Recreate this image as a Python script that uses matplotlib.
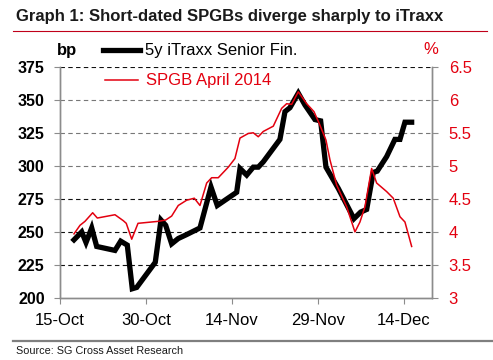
import matplotlib
matplotlib.use('Agg')
import matplotlib.pyplot as plt
from matplotlib.lines import Line2D
import datetime as dt

plt.rcParams['font.family'] = ['Liberation Sans', 'DejaVu Sans']

# ---------------- data ----------------
base_date = dt.datetime(2012, 10, 15)

itraxx_days = [2.44, 3.79, 4.54, 5.53, 6.40, 9.59, 10.59, 11.74, 12.61, 13.38,
               16.62, 17.62, 18.44, 19.48, 20.63, 22.10, 24.42, 26.34, 27.44, 30.82,
               31.40, 32.57, 33.72, 34.59, 35.46, 38.37, 39.25, 40.12, 41.57, 42.74,
               44.48, 45.47, 46.40, 48.54, 51.28, 52.45, 53.50, 54.65, 55.35, 56.99,
               58.43, 59.31, 60.18, 61.35]
itraxx_bp = [244, 250, 242, 253, 239, 236, 243, 240, 207, 208,
             227, 259, 255, 241, 245, 248, 253, 284, 270, 280,
             298, 293, 299, 299, 303, 320, 341, 344, 355, 346,
             335, 334, 299, 283, 260, 265, 267, 295, 296, 307,
             320, 320, 333, 333]

spgb_days = [2.44, 3.49, 4.36, 5.70, 6.51, 9.59, 11.04, 11.56, 12.51, 13.61,
             17.15, 18.44, 19.48, 20.63, 22.10, 23.43, 24.42, 25.59, 26.46, 27.61,
             29.36, 30.52, 31.40, 32.85, 33.72, 34.59, 35.46, 37.21, 38.67, 39.54,
             40.41, 41.57, 43.03, 44.31, 45.23, 46.40, 47.10, 48.26, 50.01, 51.46,
             52.33, 53.20, 54.37, 55.24, 56.99, 58.14, 59.31, 60.18, 61.35]
spgb_yield = [3.97, 4.10, 4.16, 4.29, 4.21, 4.26, 4.17, 4.13, 3.89, 4.13,
              4.16, 4.18, 4.24, 4.40, 4.48, 4.51, 4.40, 4.74, 4.82, 4.82,
              4.98, 5.11, 5.42, 5.49, 5.50, 5.44, 5.52, 5.60, 5.87, 5.94,
              5.93, 6.12, 5.94, 5.82, 5.64, 5.39, 5.09, 4.71, 4.38, 4.00,
              4.15, 4.38, 4.96, 4.74, 4.61, 4.51, 4.23, 4.15, 3.78]

x_tick_days = [0, 15, 30, 45, 60]
x_tick_labels = ['15-Oct', '30-Oct', '14-Nov', '29-Nov', '14-Dec']
left_ticks = [200, 225, 250, 275, 300, 325, 350, 375]
right_ticks = [3, 3.5, 4, 4.5, 5, 5.5, 6, 6.5]
right_tick_labels = ['3', '3.5', '4', '4.5', '5', '5.5', '6', '6.5']

title = 'Graph 1: Short-dated SPGBs diverge sharply to iTraxx'
source = 'Source: SG Cross Asset Research'
name_itraxx = '5y iTraxx Senior Fin.'
name_spgb = 'SPGB April 2014'

# ---------------- style ----------------
RED = '#E3000F'
GREY = '#8C8C8C'

def to_date(d):
    return base_date + dt.timedelta(days=d)

W, H = 493, 360
fig = plt.figure(figsize=(W / 100, H / 100), dpi=100)
ax = fig.add_axes([60 / W, 1 - 298 / H, (432 - 60) / W, (298 - 66.7) / H])
ax2 = ax.twinx()

ax.plot([to_date(d) for d in itraxx_days], itraxx_bp, color='black',
        linewidth=3.8, solid_joinstyle='miter', zorder=3)
ax2.plot([to_date(d) for d in spgb_days], spgb_yield, color=RED,
         linewidth=1.1, zorder=4)

ax.set_ylim(200, 375)
ax2.set_ylim(3, 6.5)
ax.set_xlim(to_date(0), to_date(64.9))

ax.set_yticks(left_ticks)
ax.set_yticklabels([str(v) for v in left_ticks], fontsize=11.5, fontweight='bold')
ax2.set_yticks(right_ticks)
ax2.set_yticklabels(right_tick_labels, fontsize=12, color=RED)
ax.set_xticks([to_date(d) for d in x_tick_days])
ax.set_xticklabels(x_tick_labels, fontsize=12)

ax.tick_params(axis='y', direction='out', length=4, width=0.8, color=GREY, pad=7)
ax2.tick_params(axis='y', direction='out', length=4, width=0.8, color=GREY, pad=8)
ax.tick_params(axis='x', direction='out', length=4, width=0.8, color=GREY, pad=7)

for a in (ax, ax2):
    a.spines['top'].set_visible(False)
    for s in ('left', 'right', 'bottom'):
        a.spines[s].set_color(GREY)
        a.spines[s].set_linewidth(1.0)

ax.grid(axis='y', linestyle=(0, (4, 3)), linewidth=0.8, color='black')
grid_colors = {200: None, 225: '#111111', 250: '#111111', 275: '#111111',
               300: '#777777', 325: '#777777', 350: '#777777', 375: '#111111'}
for gl, v in zip(ax.get_ygridlines(), left_ticks):
    c = grid_colors[v]
    if c is None:
        gl.set_visible(False)
    else:
        gl.set_color(c)
ax.set_axisbelow(True)

# titles / annotations
fig.text(16 / W, 1 - 17 / H, title, fontsize=12, fontweight='bold',
         ha='left', va='center', color='#1a1a1a')
fig.add_artist(Line2D([13 / W, 487 / W], [1 - 31 / H, 1 - 31 / H],
                      color='#C0001A', linewidth=0.8))
fig.add_artist(Line2D([13 / W, 1.0], [1 - 341 / H, 1 - 341 / H],
                      color='#7F7F7F', linewidth=1.6))
fig.text(16 / W, 1 - 351 / H, source, fontsize=7.8, ha='left', va='center',
         color='#1a1a1a')
fig.text(57 / W, 1 - 50 / H, 'bp', fontsize=12, fontweight='bold',
         ha='left', va='center')
fig.text(423 / W, 1 - 50 / H, '%', fontsize=12, ha='left', va='center', color=RED)

# legend (manual)
fig.add_artist(Line2D([103 / W, 140 / W], [1 - 50 / H, 1 - 50 / H],
                      color='black', linewidth=3.8))
fig.text(145 / W, 1 - 50 / H, name_itraxx, fontsize=12, ha='left', va='center')
fig.add_artist(Line2D([105 / W, 138 / W], [1 - 80 / H, 1 - 80 / H],
                      color=RED, linewidth=1.1))
fig.text(146 / W, 1 - 80 / H, name_spgb, fontsize=12, ha='left', va='center',
         color=RED)

fig.savefig('out.png', dpi=100)
